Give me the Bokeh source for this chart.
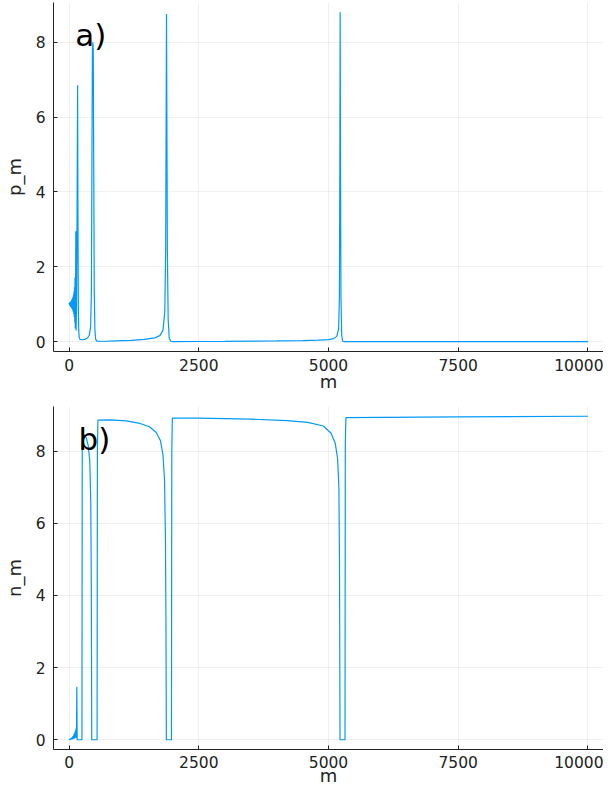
from bokeh.plotting import figure
from bokeh.models import Range1d, Label, FixedTicker
from bokeh.layouts import column
from bokeh.embed import file_html
from bokeh.resources import INLINE

# ---------------- data ----------------
x_ticks = [0, 2500, 5000, 7500, 10000]
x_tick_labels = ["0", "2500", "5000", "7500", "10000"]
y_ticks = [0, 2, 4, 6, 8]
y_tick_labels = ["0", "2", "4", "6", "8"]

m_p = [0, 5, 10, 15, 20, 25, 30, 35, 40, 45, 50, 55, 60, 65, 70, 75, 80, 85, 90, 95,
       100, 105, 110, 115, 120, 125, 130, 136, 142, 150, 158, 165, 171, 178, 186, 195,
       210, 250, 300, 350, 390, 415, 430, 440, 450, 458, 466, 476, 486, 498, 515, 540,
       700, 900, 1200, 1450, 1650, 1750, 1810, 1845, 1862, 1872, 1878, 1884, 1894, 1910,
       1930, 1960, 2000, 2500, 3000, 3500, 4000, 4500, 4800, 5000, 5100, 5160, 5195,
       5210, 5218, 5225, 5232, 5240, 5255, 5275, 5300, 7000, 10000]
p_m = [1.00, 1.03, 0.97, 1.05, 0.95, 1.06, 0.93, 1.08, 0.92, 1.10, 0.90, 1.13, 0.87,
       1.16, 0.84, 1.20, 0.80, 1.26, 0.74, 1.33, 0.66, 1.45, 0.52, 1.72, 0.35, 1.20,
       2.95, 0.30, 0.85, 2.20, 4.80, 6.85, 3.50, 1.00, 0.30, 0.12,
       0.06, 0.05, 0.06, 0.09, 0.17, 0.40, 1.30, 4.50, 7.80, 8.00, 7.80, 4.50, 1.30,
       0.30, 0.05, 0.01,
       0.01, 0.02, 0.035, 0.06, 0.10, 0.16, 0.30, 0.80, 2.50, 6.50, 8.75, 6.50, 2.50,
       0.60, 0.10, 0.01, 0.00, 0.003, 0.007, 0.012, 0.018, 0.027, 0.04, 0.055, 0.08,
       0.14, 0.35, 1.20, 4.50, 8.80, 4.50, 1.20, 0.15, 0.01, 0.00, 0.00, 0.00]

m_n = [0, 5, 10, 15, 20, 25, 30, 35, 40, 45, 50, 55, 60, 65, 70, 75, 80, 85, 90, 95,
       100, 105, 110, 115, 120, 125, 130, 135, 142, 150, 156, 248, 254, 265, 290, 330,
       370, 400, 418, 428, 434, 437, 540, 546, 556, 800, 1100, 1367, 1550, 1680, 1760,
       1810, 1840, 1858, 1868, 1875, 1973, 1980, 1990, 2500, 3500, 4200, 4600, 4900,
       5050, 5130, 5175, 5200, 5212, 5218, 5222, 5318, 5324, 5335, 7500, 10000]
n_m = [0.00, 0.01, 0.00, 0.02, 0.00, 0.03, 0.00, 0.04, 0.01, 0.05, 0.01, 0.06, 0.01,
       0.08, 0.02, 0.10, 0.02, 0.12, 0.03, 0.15, 0.03, 0.18, 0.04, 0.22, 0.05, 0.26,
       0.05, 0.32, 0.05, 1.47, 0.00, 0.00, 8.20, 8.42, 8.45, 8.38,
       8.15, 7.70, 6.60, 4.50, 1.50, 0.00, 0.00, 8.00, 8.86, 8.87, 8.84, 8.77, 8.68,
       8.52, 8.30, 7.90, 7.20, 5.50, 3.00, 0.00, 0.00, 8.00, 8.92, 8.92, 8.89, 8.85,
       8.80, 8.70, 8.50, 8.22, 7.80, 7.00, 5.00, 2.00, 0.00, 0.00, 8.20, 8.93, 8.95, 8.97]

# ---------------- style ----------------
LINE_COLOR = "#009AFA"
FONT = "DejaVu Sans"
TEXT = "#222222"
W = 603
X_RANGE = (-300, 10300)


def make(height, top, yrange, ylabel, m, v, tag, tag_xy, tick_standoff, label_standoff):
    p = figure(width=W, height=height, output_backend="svg", toolbar_location=None,
               x_range=Range1d(*X_RANGE), y_range=Range1d(*yrange),
               min_border_left=46, min_border_right=0, min_border_top=top,
               min_border_bottom=0, background_fill_color="white",
               border_fill_color="white")
    p.outline_line_color = None
    p.line(m, v, line_color=LINE_COLOR, line_width=1.2)

    for ax in (p.xaxis[0], p.yaxis[0]):
        ax.axis_line_color = TEXT
        ax.axis_line_width = 1
        ax.major_tick_line_color = TEXT
        ax.major_tick_in = 4
        ax.major_tick_out = 0
        ax.minor_tick_line_color = None
        ax.major_label_text_font = FONT
        ax.major_label_text_font_size = "15.5px"
        ax.major_label_text_color = TEXT
        ax.axis_label_text_font = FONT
        ax.axis_label_text_font_size = "18px"
        ax.axis_label_text_font_style = "normal"
        ax.axis_label_text_color = TEXT

    p.xaxis.ticker = FixedTicker(ticks=x_ticks)
    p.xaxis.major_label_overrides = dict(zip(x_ticks, x_tick_labels))
    p.yaxis.ticker = FixedTicker(ticks=y_ticks)
    p.yaxis.major_label_overrides = dict(zip(y_ticks, y_tick_labels))
    p.xaxis.axis_label = "m"
    p.yaxis.axis_label = ylabel
    p.xaxis.major_label_standoff = tick_standoff
    p.xaxis.axis_label_standoff = label_standoff
    p.yaxis.major_label_standoff = 8
    p.yaxis.axis_label_standoff = 8

    p.xgrid.grid_line_color = "#000000"
    p.xgrid.grid_line_alpha = 0.1
    p.xgrid.grid_line_width = 0.6
    p.ygrid.grid_line_color = "#000000"
    p.ygrid.grid_line_alpha = 0.1
    p.ygrid.grid_line_width = 0.6

    p.add_layout(Label(x=tag_xy[0], y=tag_xy[1], text=tag, text_font=FONT,
                       text_font_size="31px", text_align="center",
                       text_baseline="middle", text_color="black"))
    return p


pa = make(394, 2, (-0.264, 9.06), "p_m", m_p, p_m, "a)", (420, 8.18), 7, -3)
pb = make(394, 12, (-0.27, 9.24), "n_m", m_n, n_m, "b)", (488, 8.35), 6, -6)

layout = column(pa, pb, spacing=0)
open("out.html", "w").write(file_html(layout, INLINE))
